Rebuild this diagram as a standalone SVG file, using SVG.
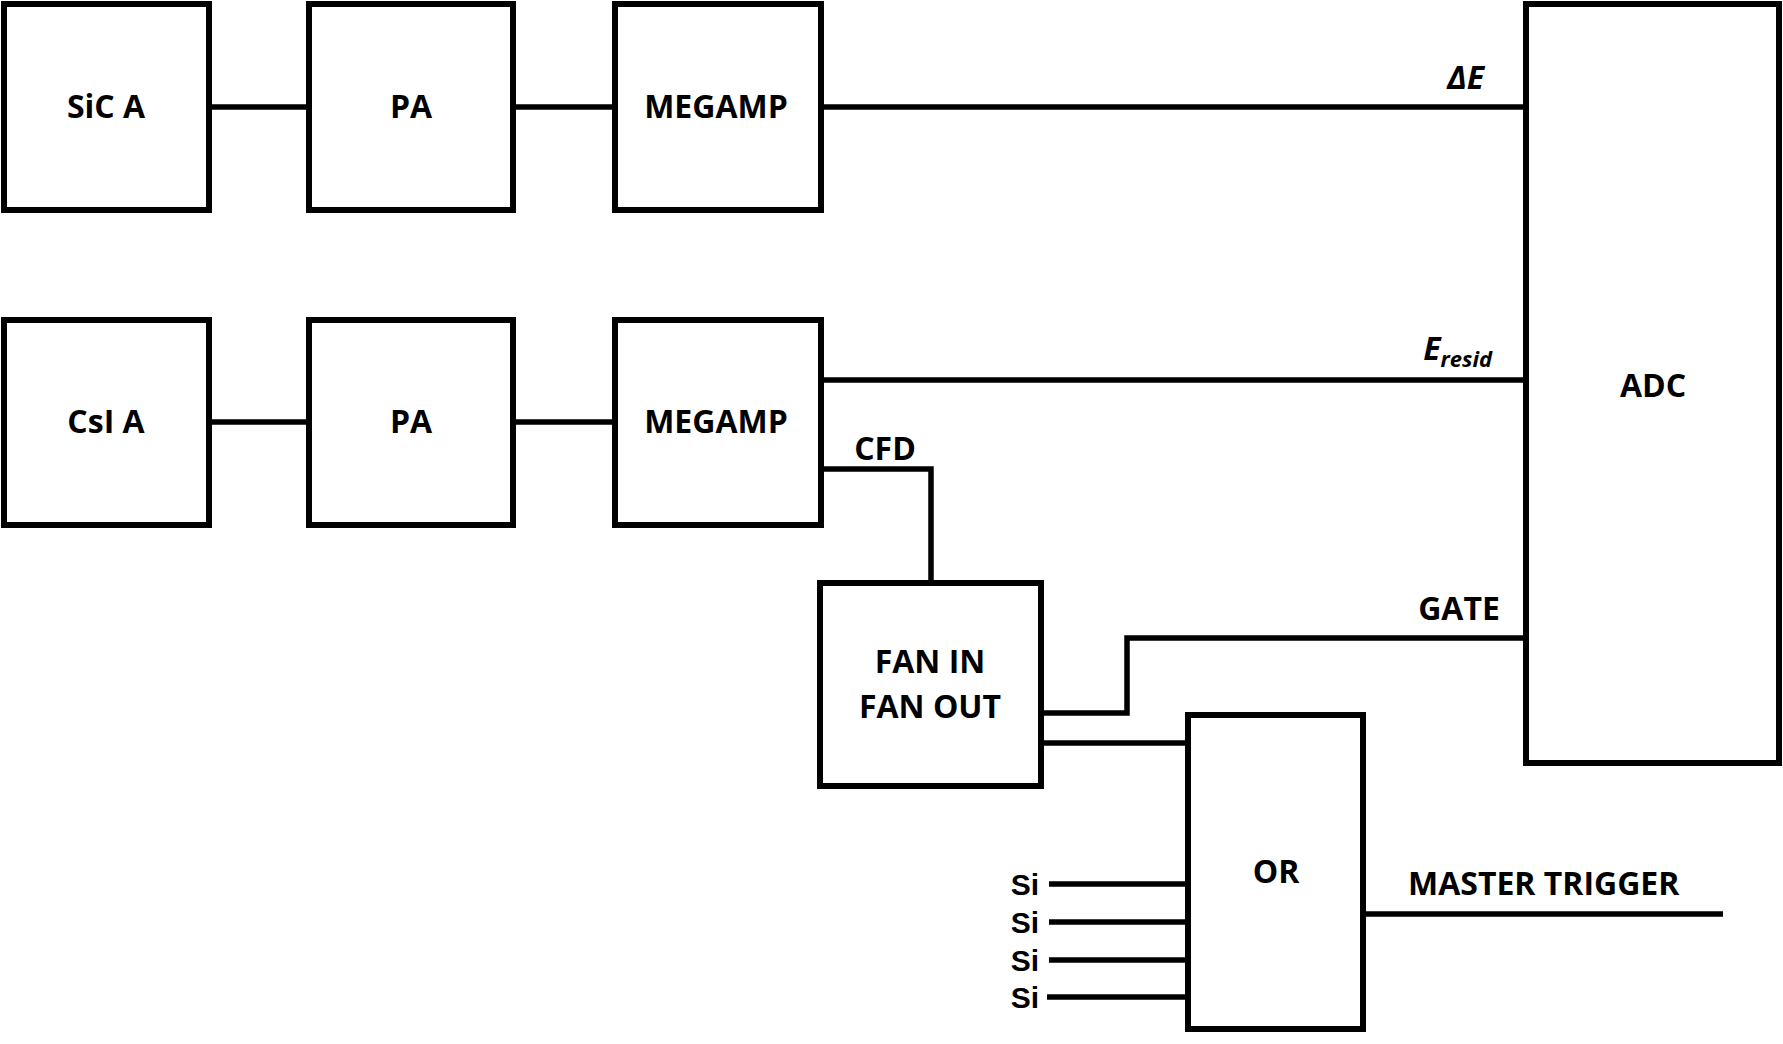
<svg xmlns="http://www.w3.org/2000/svg" width="1783" height="1044" viewBox="0 0 1783 1044">
<style>
.box{fill:#fff;stroke:#000;stroke-width:6}
.ln{fill:none;stroke:#000;stroke-width:5.5}
text{font-family:"Open Sans","Liberation Sans",sans-serif;font-weight:bold;font-size:32px;fill:#000}
.c{text-anchor:middle}
.e{text-anchor:end}
.i{font-style:italic}
.si{font-family:"Liberation Sans",Arial,sans-serif;font-size:30px}
</style>
<rect width="1783" height="1044" fill="#fff"/>
<g id="connectors">
<line class="ln" x1="209" y1="107" x2="309" y2="107"/>
<line class="ln" x1="513" y1="107" x2="615" y2="107"/>
<line class="ln" x1="821" y1="107" x2="1526" y2="107"/>
<line class="ln" x1="209" y1="422" x2="309" y2="422"/>
<line class="ln" x1="513" y1="422" x2="615" y2="422"/>
<line class="ln" x1="821" y1="380" x2="1526" y2="380"/>
<polyline class="ln" points="824,469 931,469 931,583"/>
<polyline class="ln" points="1041,713 1127,713 1127,638 1526,638"/>
<line class="ln" x1="1041" y1="743" x2="1188" y2="743"/>
<line class="ln" x1="1049" y1="884" x2="1188" y2="884"/>
<line class="ln" x1="1049" y1="922" x2="1188" y2="922"/>
<line class="ln" x1="1049" y1="960" x2="1188" y2="960"/>
<line class="ln" x1="1047" y1="997" x2="1188" y2="997"/>
<line class="ln" x1="1364" y1="914" x2="1723" y2="914"/>
</g>
<g id="sicA"><rect class="box" x="4" y="4" width="205" height="206"/><text class="c" x="106" y="118">SiC A</text></g>
<g id="pa1"><rect class="box" x="309" y="4" width="204" height="206"/><text class="c" x="411" y="118">PA</text></g>
<g id="megamp1"><rect class="box" x="615" y="4" width="206" height="206"/><text class="c" x="716" y="118">MEGAMP</text></g>
<g id="csiA"><rect class="box" x="4" y="320" width="205" height="205"/><text class="c" x="106" y="433">CsI A</text></g>
<g id="pa2"><rect class="box" x="309" y="320" width="204" height="205"/><text class="c" x="411" y="433">PA</text></g>
<g id="megamp2"><rect class="box" x="615" y="320" width="206" height="205"/><text class="c" x="716" y="433">MEGAMP</text></g>
<g id="fan"><rect class="box" x="820" y="583" width="221" height="203"/><text class="c" x="930" y="673">FAN IN</text><text class="c" x="930" y="718">FAN OUT</text></g>
<g id="or"><rect class="box" x="1188" y="715" width="175" height="314"/><text class="c" x="1276" y="883">OR</text></g>
<g id="adc"><rect class="box" x="1526" y="4" width="253" height="759"/><text class="c" x="1653" y="397">ADC</text></g>
<g id="labels">
<text class="e i" x="1484" y="89">ΔE</text>
<text class="e i" x="1492" y="360">E<tspan font-size="22" dy="7">resid</tspan></text>
<text class="c" x="885" y="460">CFD</text>
<text class="c" x="1459" y="620">GATE</text>
<text x="1408" y="895">MASTER TRIGGER</text>
<text class="e si" x="1039" y="895">Si</text>
<text class="e si" x="1039" y="933">Si</text>
<text class="e si" x="1039" y="971">Si</text>
<text class="e si" x="1039" y="1008">Si</text>
</g>
</svg>
